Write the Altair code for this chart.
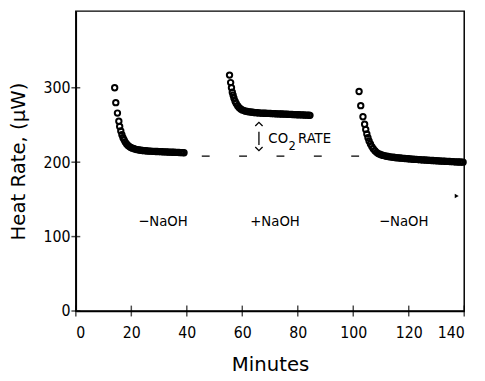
import altair as alt
import pandas as pd

# ---- data ----
x1 = [14.0, 14.4, 15.0, 15.5, 15.8, 16.2, 16.6, 17.0, 17.4, 17.8, 18.3, 18.8, 19.3, 19.8,
      20.4, 21.0, 21.6, 22.2, 22.8, 23.4, 24.0, 24.6, 25.2, 25.8, 26.4, 27.0, 27.6, 28.2,
      28.8, 29.4, 30.0, 30.6, 31.2, 31.8, 32.4, 33.0, 33.6, 34.2, 34.8, 35.4, 36.0, 36.6,
      37.2, 37.8, 38.4, 39.0]
y1 = [300, 280, 266, 255, 248, 242, 237, 233, 230, 227, 224.5, 222.5, 221, 219.8,
      218.8, 218.0, 217.3, 216.8, 216.4, 216.0, 215.7, 215.5, 215.3, 215.1, 214.9, 214.8,
      214.6, 214.5, 214.4, 214.3, 214.2, 214.1, 214.0, 213.9, 213.8, 213.7, 213.6, 213.5,
      213.4, 213.3, 213.2, 213.1, 213.0, 212.9, 212.8, 212.7]

x2 = [55.4, 55.8, 56.1, 56.4, 56.7, 57.0, 57.4, 57.8, 58.3, 58.8, 59.4,
      60.0, 60.6, 61.2, 61.8, 62.4, 63.0, 63.6, 64.2, 64.8, 65.4, 66.0, 66.6, 67.2, 67.8,
      68.4, 69.0, 69.6, 70.2, 70.8, 71.4, 72.0, 72.6, 73.2, 73.8, 74.4, 75.0, 75.6, 76.2,
      76.8, 77.4, 78.0, 78.6, 79.2, 79.8, 80.4, 81.0, 81.6, 82.2, 82.8, 83.4, 84.0, 84.4]
y2 = [317, 307, 300, 294, 290, 286, 282, 279, 276, 273.5, 271.5,
      270.2, 269.3, 268.6, 268.1, 267.7, 267.4, 267.1, 266.8, 266.6, 266.4, 266.2, 266.0,
      265.9, 265.8, 265.7, 265.6, 265.5, 265.4, 265.3, 265.2, 265.1, 265.0, 264.9, 264.8,
      264.7, 264.6, 264.5, 264.4, 264.3, 264.2, 264.1, 264.0, 263.9, 263.8, 263.7, 263.6,
      263.5, 263.4, 263.3, 263.2, 263.1, 263.0]

x3 = [102.1, 102.7, 103.5, 104.1, 104.5, 104.9, 105.3, 105.7, 106.2, 106.7, 107.2, 107.8, 108.4,
      109.0, 109.6, 110.2, 110.8, 111.4, 112.0, 112.6, 113.2, 113.8, 114.4, 115.0, 115.6,
      116.2, 116.8, 117.4, 118.0, 118.6, 119.2, 119.8, 120.4, 121.0, 121.6, 122.2, 122.8,
      123.4, 124.0, 124.6, 125.2, 125.8, 126.4, 127.0, 127.6, 128.2, 128.8, 129.4, 130.0,
      130.6, 131.2, 131.8, 132.4, 133.0, 133.6, 134.2, 134.8, 135.4, 136.0, 136.6, 137.2,
      137.8, 138.4, 139.0, 139.6]
y3 = [295, 276, 261, 251, 244, 238, 233, 228.5, 224.5, 221, 218, 215.3, 213.2,
      211.6, 210.6, 209.8, 209.1, 208.5, 208.0, 207.6, 207.2, 206.9, 206.6, 206.3, 206.0,
      205.8, 205.6, 205.4, 205.2, 205.0, 204.8, 204.6, 204.4, 204.2, 204.0, 203.8, 203.7,
      203.5, 203.4, 203.2, 203.1, 202.9, 202.8, 202.6, 202.5, 202.3, 202.2, 202.0, 201.9,
      201.8, 201.6, 201.5, 201.4, 201.3, 201.1, 201.0, 200.9, 200.8, 200.7, 200.5, 200.4,
      200.3, 200.2, 200.1, 200.0]

minute_ticks = [0, 20, 40, 60, 80, 100, 120, 140]
rate_ticks = [0, 100, 200, 300]

baseline_t = [45.4, 102.8]
baseline_q = 208

cond_labels = ["\u2212NaOH", "+NaOH", "\u2212NaOH"]
cond_t = [31.4, 71.8, 118.2]
cond_q = 120.5

co2_parts = ["CO", "2", "RATE"]
co2_t = [69.4, 76.7, 80.1]
co2_q = [233, 222, 232]

arrow_t = 66.0
arrow_up_q = 251
arrow_down_q = 218
arrow_bar_q = [223, 241]

marker_t = 137.3
marker_q = 154.6

# ---- chart ----
NARROW = "DejaVu Sans Condensed"
xs = alt.Scale(domain=[0, 140], nice=False, zero=False)
ys = alt.Scale(domain=[0, 403], nice=False, zero=False)

X = alt.X("t:Q", scale=xs)
Y = alt.Y("q:Q", scale=ys)

pts = pd.DataFrame({"t": x1 + x2 + x3, "q": y1 + y2 + y3})

points = alt.Chart(pts).mark_point(
    shape="circle", filled=False, color="black", size=30, strokeWidth=2, opacity=1
).encode(
    x=alt.X("t:Q", scale=xs, title="Minutes", axis=alt.Axis(
        values=minute_ticks, labelFont=NARROW, labelFontSize=16,
        labelPadding=14, titleFont="DejaVu Sans", titleFontSize=20, titleFontWeight="normal",
        titlePadding=15)),
    y=alt.Y("q:Q", scale=ys, title="Heat Rate, (\u03bcW)", axis=alt.Axis(
        values=rate_ticks, labelFont=NARROW, labelFontSize=16,
        labelPadding=6, titleFont="DejaVu Sans", titleFontSize=20, titleFontWeight="normal",
        titlePadding=15)),
)

base_df = pd.DataFrame({"t": [baseline_t[0]], "t2": [baseline_t[1]], "q": [baseline_q]})
baseline = alt.Chart(base_df).mark_rule(color="black", strokeWidth=1.3, strokeDash=[8, 30]).encode(
    x=X, x2="t2:Q", y=Y)

xt_df = pd.DataFrame({"t": minute_ticks, "q": [0] * len(minute_ticks)})
xticks = alt.Chart(xt_df).mark_tick(color="black", orient="vertical", size=11, thickness=1.5).encode(
    x=X, y=Y)

yt_df = pd.DataFrame({"t": [0] * len(rate_ticks), "q": rate_ticks})
yticks = alt.Chart(yt_df).mark_tick(color="black", orient="horizontal", size=9, thickness=1.5).encode(
    x=X, y=Y)

cond_df = pd.DataFrame({"t": cond_t, "q": [cond_q] * 3, "label": cond_labels})
conds = alt.Chart(cond_df).mark_text(font=NARROW, fontSize=15, color="black", align="center",
                                     baseline="middle").encode(x=X, y=Y, text="label:N")

co2_df = pd.DataFrame({"t": co2_t, "q": co2_q, "label": co2_parts, "fs": [15, 13, 15]})
co2 = alt.Chart(co2_df).mark_text(font=NARROW, color="black", align="left", baseline="middle").encode(
    x=X, y=Y, text="label:N", size=alt.Size("fs:Q", scale=None, legend=None))

up_df = pd.DataFrame({"t": [arrow_t], "q": [arrow_up_q]})
up = alt.Chart(up_df).mark_point(shape="M -1 0.5 L 0 -0.5 L 1 0.5", filled=False, color="black",
                                 size=55, strokeWidth=1.3, opacity=1).encode(x=X, y=Y)
down_df = pd.DataFrame({"t": [arrow_t], "q": [arrow_down_q]})
down = alt.Chart(down_df).mark_point(shape="M -1 -0.5 L 0 0.5 L 1 -0.5", filled=False, color="black",
                                     size=55, strokeWidth=1.3, opacity=1).encode(x=X, y=Y)
bar_df = pd.DataFrame({"t": [arrow_t], "q": [arrow_bar_q[0]], "q2": [arrow_bar_q[1]]})
bar = alt.Chart(bar_df).mark_rule(color="black", strokeWidth=1.3).encode(x=X, y=Y, y2="q2:Q")

mk_df = pd.DataFrame({"t": [marker_t], "q": [marker_q]})
mk = alt.Chart(mk_df).mark_point(shape="triangle-right", filled=True, color="black", size=22,
                                 opacity=1).encode(x=X, y=Y)

chart = alt.layer(points, baseline, xticks, yticks, conds, co2, up, down, bar, mk).properties(
    width=395, height=305,
    autosize=alt.AutoSizeParams(type="none"),
    padding={"left": 69, "top": 0, "right": 13, "bottom": 68},
    background="white",
).configure_view(stroke="black", strokeWidth=1.5).configure_axis(
    grid=False, domainColor="black", domainWidth=1.5, tickSize=0, labelColor="black",
    titleColor="black",
)

chart.save("out.html", embed_options={"renderer": "svg", "actions": False})
